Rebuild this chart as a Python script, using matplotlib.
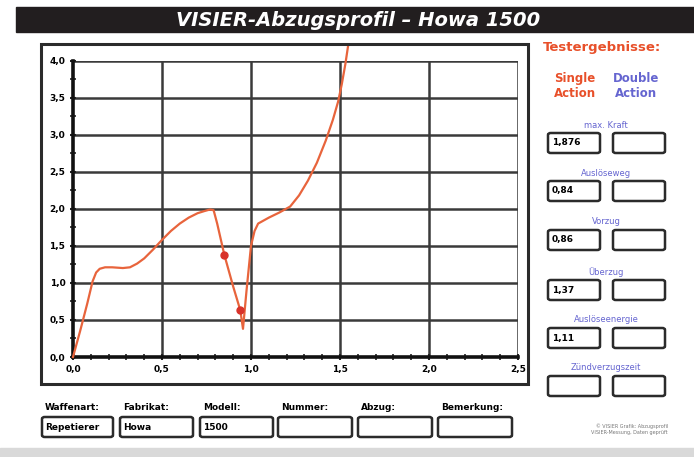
import matplotlib.pyplot as plt
from matplotlib.patches import Rectangle, FancyBboxPatch
from matplotlib.ticker import FuncFormatter, MultipleLocator

# ==========================
# Data
# ==========================

weg = [0.0, 0.04, 0.08, 0.11, 0.13, 0.15, 0.18, 0.22, 0.28, 0.32, 0.36, 0.40,
       0.45, 0.50, 0.55, 0.60, 0.65, 0.70, 0.74, 0.77, 0.79, 0.81, 0.85, 0.90,
       0.94, 0.955, 0.975, 1.00, 1.02, 1.04, 1.10, 1.16, 1.22, 1.27, 1.32,
       1.37, 1.42, 1.46, 1.49, 1.51, 1.53, 1.545]
kraft = [0.0, 0.35, 0.72, 1.02, 1.14, 1.19, 1.21, 1.21, 1.20, 1.21, 1.26, 1.33,
         1.45, 1.58, 1.70, 1.80, 1.88, 1.94, 1.97, 1.99, 1.98, 1.80, 1.38, 0.95,
         0.63, 0.38, 0.90, 1.50, 1.70, 1.80, 1.88, 1.95, 2.03, 2.18, 2.38,
         2.62, 2.92, 3.20, 3.45, 3.68, 3.95, 4.19]

marker_weg = [0.85, 0.94]
marker_kraft = [1.38, 0.63]

result_labels = ["max. Kraft", "Auslöseweg", "Vorzug", "Überzug",
                 "Auslöseenergie", "Zündverzugszeit"]
single_values = ["1,876", "0,84", "0,86", "1,37", "1,11", ""]
double_values = ["", "", "", "", "", ""]

field_labels = ["Waffenart:", "Fabrikat:", "Modell:", "Nummer:", "Abzug:", "Bemerkung:"]
field_values = ["Repetierer", "Howa", "1500", "", "", ""]

title = "VISIER-Abzugsprofil – Howa 1500"

# ==========================
# Figure
# ==========================

W, H = 694, 457
fig = plt.figure(figsize=(W / 100, H / 100), dpi=100)
fig.patch.set_facecolor("white")


def fx(x):
    return x / W


def fy(y):
    return 1 - y / H


def box(x0, y0, x1, y1, lw=1.8, rounded=True):
    if rounded:
        p = FancyBboxPatch((fx(x0), fy(y1)), fx(x1) - fx(x0), fy(y0) - fy(y1),
                           boxstyle="round,pad=0,rounding_size=0.004",
                           transform=fig.transFigure, fill=False,
                           edgecolor="#2b2b2b", linewidth=lw)
    else:
        p = Rectangle((fx(x0), fy(y1)), fx(x1) - fx(x0), fy(y0) - fy(y1),
                      transform=fig.transFigure, fill=False,
                      edgecolor="#2b2b2b", linewidth=lw)
    fig.add_artist(p)


# title bar
fig.add_artist(Rectangle((fx(16), fy(32)), fx(694) - fx(16), fy(7) - fy(32),
                         transform=fig.transFigure, color="#221e1f", zorder=0))
fig.text(fx(358), fy(20), title, color="white", fontsize=14, fontweight="bold",
         fontstyle="italic", ha="center", va="center")

# bottom gray strip
fig.add_artist(Rectangle((0, 0), 1, fy(448), transform=fig.transFigure,
                         color="#d9d9d9", zorder=0))

# outer frame around the chart
box(41, 44, 528, 384, lw=2.2, rounded=False)

# ==========================
# Chart
# ==========================

ax = fig.add_axes([fx(73), fy(357), fx(518) - fx(73), fy(60.5) - fy(357)])
ax.set_xlim(0, 2.5)
ax.set_ylim(0, 4.0)

for gx in [0.5, 1.0, 1.5, 2.0, 2.5]:
    ax.axvline(gx, color="#3a3a3a", lw=1.8, zorder=1)
for gy in [0.5, 1.0, 1.5, 2.0, 2.5, 3.0, 3.5, 4.0]:
    ax.axhline(gy, color="#3a3a3a", lw=1.8, zorder=1)

ax.plot(weg, kraft, color="#e8643c", lw=1.6, clip_on=False, zorder=3,
        solid_joinstyle="round")
ax.plot(marker_weg, marker_kraft, "o", color="#d8322a", markersize=5,
        zorder=4, clip_on=False)

for s in ["top", "right"]:
    ax.spines[s].set_visible(False)
for s in ["left", "bottom"]:
    ax.spines[s].set_linewidth(2.6)
    ax.spines[s].set_color("#111111")

comma = FuncFormatter(lambda v, p: f"{v:.1f}".replace(".", ","))
ax.xaxis.set_major_locator(MultipleLocator(0.5))
ax.yaxis.set_major_locator(MultipleLocator(0.5))
ax.xaxis.set_minor_locator(MultipleLocator(0.1))
ax.yaxis.set_minor_locator(MultipleLocator(0.25))
ax.xaxis.set_major_formatter(comma)
ax.yaxis.set_major_formatter(comma)
ax.tick_params(which="both", direction="inout", color="#222222")
ax.tick_params(which="major", length=5, width=1.5, labelsize=6.5, pad=3)
ax.tick_params(which="minor", length=4, width=1.2)
for lab in ax.get_xticklabels() + ax.get_yticklabels():
    lab.set_fontweight("bold")

# ==========================
# Right panel: test results
# ==========================

red = "#e8502a"
blue = "#6565d0"

fig.text(fx(543), fy(47), "Testergebnisse:", color=red, fontsize=9.5,
         fontweight="bold", ha="left", va="center")
fig.text(fx(575), fy(86), "Single\nAction", color=red, fontsize=8.5,
         fontweight="bold", ha="center", va="center", linespacing=1.2)
fig.text(fx(636), fy(86), "Double\nAction", color=blue, fontsize=8.5,
         fontweight="bold", ha="center", va="center", linespacing=1.2)

label_y = [125, 173, 222, 272, 320, 368]
for lab, sv, dv, ly in zip(result_labels, single_values, double_values, label_y):
    fig.text(fx(606), fy(ly), lab, color=blue, fontsize=6, ha="center", va="center")
    top, bot = ly + 8, ly + 28
    box(548, top, 600, bot)
    box(613, top, 665, bot)
    fig.text(fx(552), fy((top + bot) / 2), sv, fontsize=6.5, fontweight="bold",
             ha="left", va="center")
    fig.text(fx(617), fy((top + bot) / 2), dv, fontsize=6.5, fontweight="bold",
             ha="left", va="center")

# ==========================
# Bottom fields
# ==========================

field_x = [(42, 113), (120, 193), (200, 273), (278, 352), (358, 432), (438, 512)]
for lab, val, (x0, x1) in zip(field_labels, field_values, field_x):
    fig.text(fx(x0 + 3), fy(408), lab, fontsize=6.5, fontweight="bold",
             ha="left", va="center")
    box(x0, 417, x1, 437)
    fig.text(fx(x0 + 3), fy(427), val, fontsize=6.5, fontweight="bold",
             ha="left", va="center")

fig.text(fx(668), fy(429), "© VISIER Grafik: Abzugsprofil\nVISIER-Messung, Daten geprüft",
         fontsize=3.5, color="#777777", ha="right", va="center")

fig.savefig("out.png", dpi=100)
plt.close(fig)
